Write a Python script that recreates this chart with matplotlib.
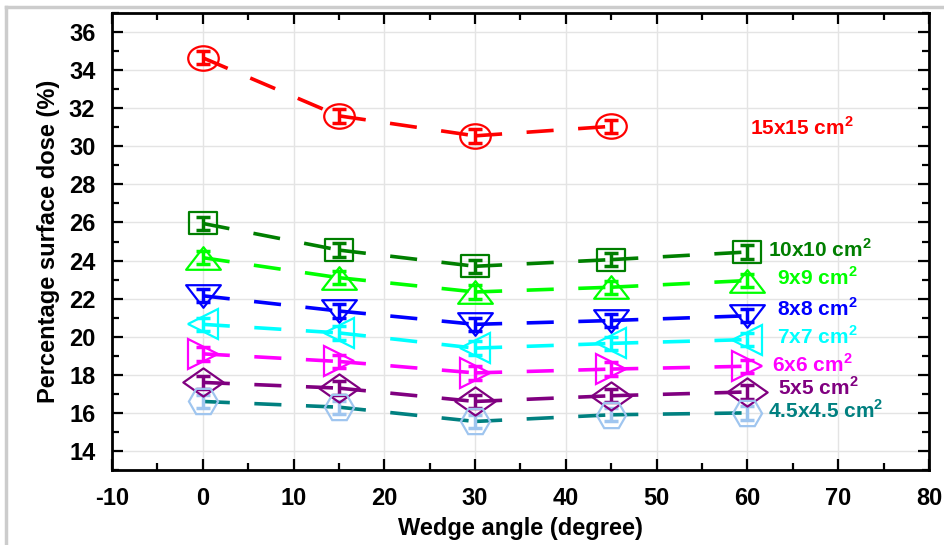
import matplotlib
matplotlib.use("Agg")
from matplotlib import pyplot as plt
from matplotlib.path import Path
from matplotlib.lines import Line2D
from matplotlib.ticker import MultipleLocator

plt.rcParams['font.family'] = ['Liberation Sans', 'DejaVu Sans']
plt.rcParams['font.weight'] = 'bold'
plt.rcParams['axes.unicode_minus'] = False
plt.rcParams['mathtext.fontset'] = 'custom'
plt.rcParams['mathtext.rm'] = 'Liberation Sans:bold'
plt.rcParams['mathtext.bf'] = 'Liberation Sans:bold'

# data
angles = [0, 15, 30, 45, 60]
dose_15 = [34.65, 31.6, 30.55, 31.05]
dose_10 = [25.95, 24.55, 23.7, 24.05, 24.45]
dose_9 = [24.15, 23.1, 22.35, 22.6, 22.95]
dose_8 = [22.15, 21.35, 20.65, 20.85, 21.1]
dose_7 = [20.65, 20.2, 19.4, 19.65, 19.85]
dose_6 = [19.1, 18.7, 18.1, 18.3, 18.45]
dose_5 = [17.6, 17.3, 16.6, 16.9, 17.1]
dose_45 = [16.6, 16.3, 15.55, 15.9, 16.0]
err = 0.35

labels = ['15x15', '10x10', '9x9', '8x8', '7x7', '6x6', '5x5', '4.5x4.5']
label_pos = [(60.3, 31.0), (62.3, 24.6), (63.3, 23.1), (63.3, 21.5),
             (63.3, 20.0), (62.7, 18.55), (63.4, 17.35), (62.3, 16.15)]

# marker shapes (the original is a bit stretched sideways)
def poly(pts):
    return Path(pts + [pts[0]], closed=True)

circ = Path.unit_circle()
ellipse = Path(circ.vertices * [1, 0.8], circ.codes)
square = poly([(-1, -0.8), (1, -0.8), (1, 0.8), (-1, 0.8)])
tri_up = poly([(0, 0.65), (-1, -0.65), (1, -0.65)])
tri_dn = poly([(0, -0.65), (-1, 0.65), (1, 0.65)])
diamond = poly([(0, 0.7), (1, 0), (0, -0.7), (-1, 0)])

series = [
    (dose_15, '#ff0000', '#ff0000', ellipse, 22),
    (dose_10, '#007f00', '#007f00', square, 20),
    (dose_9, '#00ff00', '#00ff00', tri_up, 25),
    (dose_8, '#0000ff', '#0000ff', tri_dn, 25),
    (dose_7, '#00ffff', '#00ffff', '<', 22),
    (dose_6, '#ff00ff', '#ff00ff', '>', 22),
    (dose_5, '#800080', '#800080', diamond, 29),
    (dose_45, '#008080', '#9fc5ef', 'H', 21),
]

fig = plt.figure(figsize=(9.45, 5.45), dpi=100)
ax = fig.add_axes([0.1185, 0.1376, 0.8645, 0.8385])

for i, (ys, lc, mc, mk, ms) in enumerate(series):
    xs = angles[:len(ys)]
    # dashed connecting line, drawn segment by segment like the original
    for k in range(len(ys) - 1):
        ax.plot(xs[k:k + 2], ys[k:k + 2], color=lc, lw=2.6,
                dashes=(7.5, 6.8), dash_capstyle='butt', zorder=2)
    ax.errorbar(xs, ys, yerr=err, fmt='none', ecolor=mc, elinewidth=2.5,
                capsize=5, capthick=2.5, zorder=3)
    ax.plot(xs, ys, ls='none', marker=mk, ms=ms, mfc='none', mec=mc,
            mew=1.6, zorder=4)
    tx, ty = label_pos[i]
    ax.text(tx, ty, labels[i] + r' cm$^{2}$', color=lc, fontsize=15,
            fontweight='bold', va='center', ha='left', zorder=5)

ax.set_xlim(-10, 80)
ax.set_ylim(13, 37)
ax.xaxis.set_major_locator(MultipleLocator(10))
ax.xaxis.set_minor_locator(MultipleLocator(5))
ax.yaxis.set_minor_locator(MultipleLocator(1))
ax.set_yticks(range(14, 37, 2))
ax.grid(True, which='major', color='#e4e4e4', lw=1)
ax.set_axisbelow(True)
ax.tick_params(which='both', direction='in', top=True, right=True,
               width=1.6, labelsize=17)
ax.tick_params(axis='x', pad=12)
ax.tick_params(axis='y', pad=12)
ax.tick_params(which='major', length=8)
ax.tick_params(which='minor', length=5)
for s in ax.spines.values():
    s.set_linewidth(2)

ax.set_xlabel('Wedge angle (degree)', fontsize=17, fontweight='bold', labelpad=5)
ax.set_ylabel('Percentage surface dose (%)', fontsize=17, fontweight='bold', labelpad=6)

# light grey frame of the screenshot
fig.add_artist(Line2D([0.0065, 1.0], [0.988, 0.988], transform=fig.transFigure,
                      color='#cccccc', lw=2.5))
fig.add_artist(Line2D([0.0065, 0.0065], [0.0, 0.988], transform=fig.transFigure,
                      color='#cccccc', lw=2.5))

fig.savefig('out.png', dpi=100)
